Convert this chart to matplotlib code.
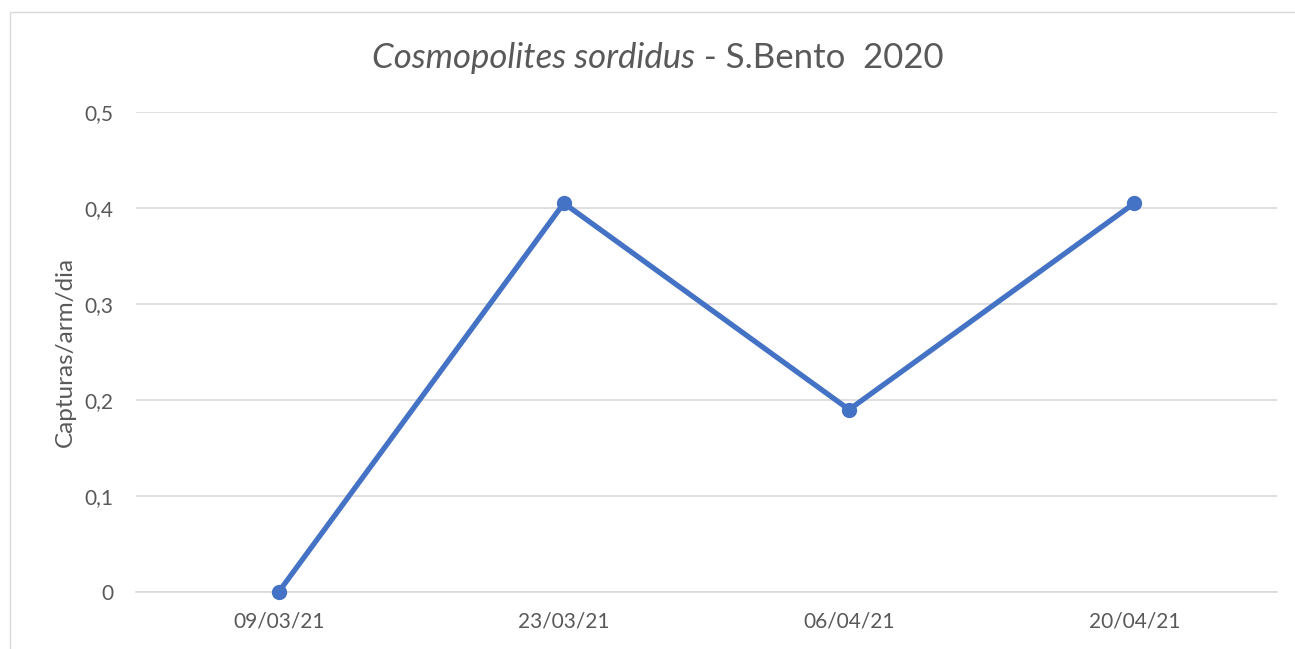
import matplotlib
matplotlib.use("Agg")
import matplotlib.pyplot as plt
from matplotlib.patches import Rectangle

dates = ["09/03/21", "23/03/21", "06/04/21", "20/04/21"]
capturas = [0.0, 0.405, 0.19, 0.405]
yticks = [0, 0.1, 0.2, 0.3, 0.4, 0.5]
ytick_labels = ["0", "0,1", "0,2", "0,3", "0,4", "0,5"]

FONT = "Lato"
TXT = "#595959"
LINE = "#4472C4"
GRID = "#D9D9D9"

fig = plt.figure(figsize=(12.95, 6.49), dpi=100)
fig.patch.set_facecolor("white")
# chart frame
fig.patches.append(Rectangle((10/1295, -0.05), 1.1, 1 - 12/649 + 0.05,
                             transform=fig.transFigure, fill=False,
                             edgecolor="#D9D9D9", linewidth=1.0))

ax = fig.add_axes([136/1295, 1 - 592/649, (1277 - 136)/1295, (592 - 112)/649])
x = list(range(len(dates)))
ax.plot(x, capturas, color=LINE, linewidth=3.8, marker="o", markersize=10,
        solid_capstyle="round", zorder=3, clip_on=False)
ax.set_xlim(-0.5, len(dates) - 0.5)
ax.set_ylim(0, 0.5)
ax.set_yticks(yticks)
ax.set_yticklabels(ytick_labels)
ax.set_xticks(x)
ax.set_xticklabels(dates)
ax.yaxis.grid(True, color=GRID, linewidth=1.2)
ax.set_axisbelow(True)
for s in ["top", "right", "left"]:
    ax.spines[s].set_visible(False)
ax.spines["bottom"].set_color(GRID)
ax.spines["bottom"].set_linewidth(1.2)
ax.tick_params(axis="both", length=0, labelsize=15, labelcolor=TXT)
ax.tick_params(axis="y", pad=16)
ax.tick_params(axis="x", pad=14)
for lab in ax.get_xticklabels() + ax.get_yticklabels():
    lab.set_fontfamily(FONT)
ax.set_ylabel("Capturas/arm/dia", fontsize=17.5, color=TXT, fontfamily=FONT)
ax.yaxis.set_label_coords(-0.053, 0.5)

# Title with mixed italic/regular parts, centered
ty = 1 - 58/649
t1 = fig.text(0.5, ty, "Cosmopolites sordidus", fontsize=25, style="italic",
              color=TXT, fontfamily=FONT, ha="left", va="center")
t2 = fig.text(0.5, ty, " - S.Bento  2020", fontsize=25, color=TXT,
              fontfamily=FONT, ha="left", va="center")
fig.canvas.draw()
r = fig.canvas.get_renderer()
w1 = t1.get_window_extent(r).width
w2 = t2.get_window_extent(r).width
W = fig.bbox.width
cx = 658
start = cx - (w1 + w2) / 2
t1.set_x(start / W)
t2.set_x((start + w1) / W)

fig.savefig("out.png", dpi=100)
